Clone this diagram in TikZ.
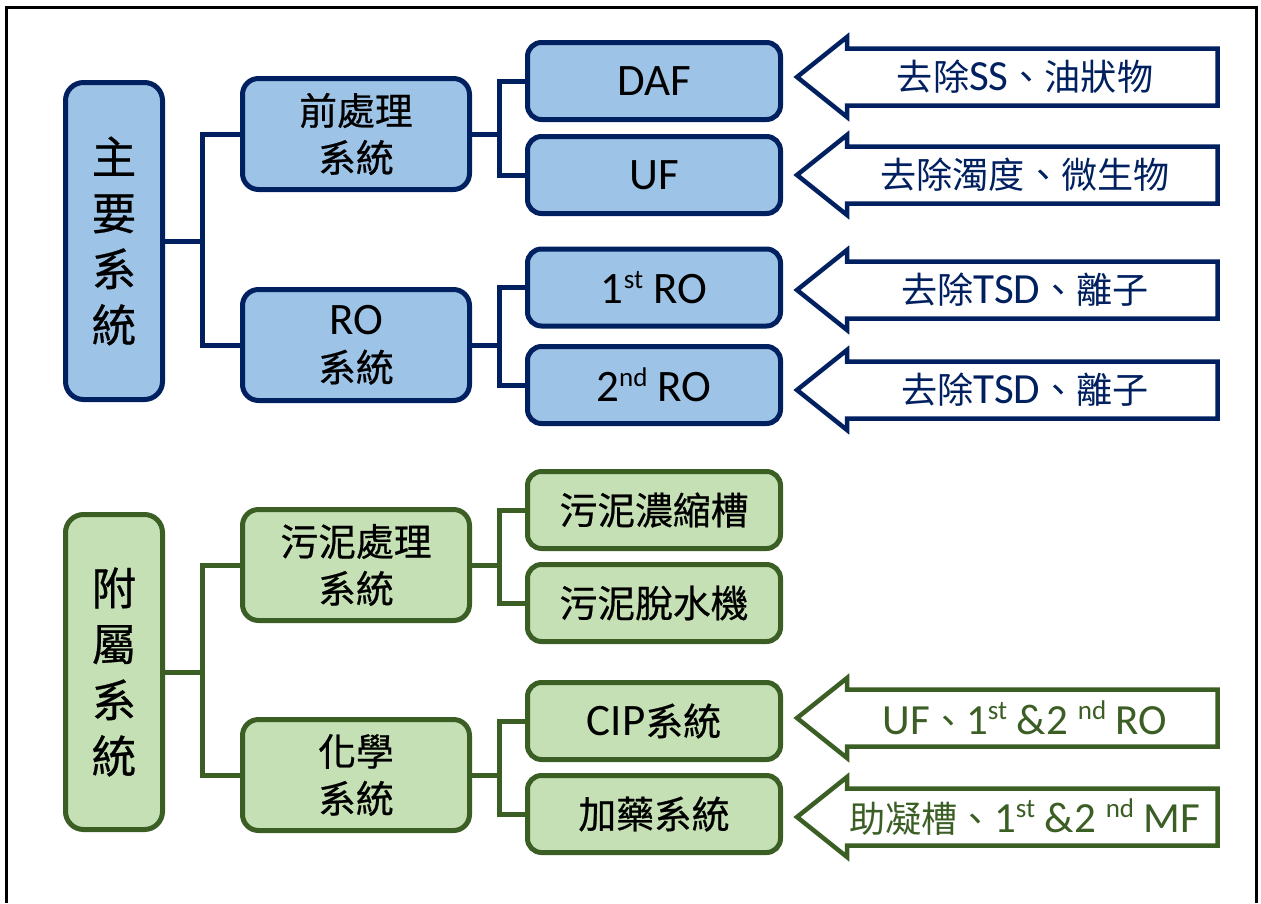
\documentclass[tikz,border=0pt]{standalone}
\usepackage{fontspec}
\setmainfont{Carlito}
\newfontfamily\cjk[Scale=0.84]{Noto Sans CJK TC}
\newfontfamily\cjkb[Scale=0.84,FakeBold=0.6]{Noto Sans CJK TC}
\newcommand\zh[1]{{\cjk #1}}
\newcommand\zb[1]{{\cjkb #1}}
\newcommand\sups[1]{\raisebox{0.34em}{\fontsize{27}{27}\selectfont #1}}
\definecolor{navy}{HTML}{002060}
\definecolor{bluef}{HTML}{9DC3E6}
\definecolor{dgreen}{HTML}{3B5E24}
\definecolor{greenf}{HTML}{C5E0B4}
\tikzset{
  box/.style={draw, line width=5pt, inner sep=0pt, align=center, text=black},
  blueb/.style={box, draw=navy, fill=bluef},
  greenb/.style={box, draw=dgreen, fill=greenf},
  lone/.style={minimum width=97pt, minimum height=317pt, rounded corners=18pt, font=\fontsize{53}{56}\selectfont},
  ltwo/.style={minimum width=227pt, minimum height=111pt, rounded corners=16pt, font=\fontsize{45}{47}\selectfont},
  lthree/.style={minimum width=253pt, minimum height=77pt, rounded corners=14pt, font=\fontsize{45}{50}\selectfont},
  conn/.style={line width=5pt},
  atext/.style={inner sep=0pt, font=\fontsize{43}{45}\selectfont},
  blockarr/.pic={\draw[line width=4.5pt, fill=white, miter limit=10]
     (797,0) -- (847,-40) -- (847,-28.5) -- (1217.5,-28.5) -- (1217.5,28.5)
     -- (847,28.5) -- (847,40) -- cycle;}
}
\begin{document}
\begin{tikzpicture}[x=1pt,y=-1pt]
\useasboundingbox (0,0) rectangle (1261,903);
\draw[line width=3pt] (6.5,903) -- (6.5,7.5) -- (1256.5,7.5) -- (1256.5,903);

% ---------- main system ----------
\node[blueb, lone] (main) at (114,241) {\zb{主}\\\zb{要}\\\zb{系}\\\zb{統}};
\node[blueb, ltwo] (pre) at (356,134) {\zb{前處理}\\\zb{系統}};
\node[blueb, ltwo] (ro) at (356,345) {RO\\\zb{系統}};
\node[blueb, lthree] (daf) at (654,81) {DAF};
\node[blueb, lthree] (uf) at (654,175) {UF};
\node[blueb, lthree] (roa) at (654,287.5) {1\sups{st} RO};
\node[blueb, lthree] (rob) at (654,385) {2\sups{nd} RO};

\coordinate (jm) at (202,241);
\coordinate (jp) at (499,134);
\coordinate (jr) at (499,345);
\draw[conn, navy] (main.east) -- (jm);
\draw[conn, navy] (pre.west) -| (jm) |- (ro.west);
\draw[conn, navy] (pre.east) -- (jp);
\draw[conn, navy] (daf.west) -| (jp) |- (uf.west);
\draw[conn, navy] (ro.east) -- (jr);
\draw[conn, navy] (roa.west) -| (jr) |- (rob.west);

% ---------- auxiliary system ----------
\node[greenb, lone, minimum height=315pt] (aux) at (114,672) {\zb{附}\\\zb{屬}\\\zb{系}\\\zb{統}};
\node[greenb, ltwo] (sl) at (356,565) {\zb{污泥處理}\\\zb{系統}};
\node[greenb, ltwo] (ch) at (356,775) {\zb{化學}\\\zb{系統}};
\node[greenb, lthree] (thk) at (654,510) {\zb{污泥濃縮槽}};
\node[greenb, lthree] (dew) at (654,603) {\zb{污泥脫水機}};
\node[greenb, lthree] (cip) at (654,721) {CIP\zb{系統}};
\node[greenb, lthree] (dos) at (654,814) {\zb{加藥系統}};

\coordinate (ja) at (202,672);
\coordinate (js) at (499,565);
\coordinate (jc) at (499,775);
\draw[conn, dgreen] (aux.east) -- (ja);
\draw[conn, dgreen] (sl.west) -| (ja) |- (ch.west);
\draw[conn, dgreen] (sl.east) -- (js);
\draw[conn, dgreen] (thk.west) -| (js) |- (dew.west);
\draw[conn, dgreen] (ch.east) -- (jc);
\draw[conn, dgreen] (cip.west) -| (jc) |- (dos.west);

% ---------- block arrows ----------
\pic[navy] at (0,77) {blockarr};
\pic[navy] at (0,175) {blockarr};
\pic[navy] at (0,290) {blockarr};
\pic[navy] at (0,390) {blockarr};
\pic[dgreen] at (0,718) {blockarr};
\pic[dgreen] at (0,817) {blockarr};

\node[atext, text=navy] (ta) at (1025,77) {\zh{去除}SS\zh{、油狀物}};
\node[atext, text=navy] (tb) at (1025,175) {\zh{去除濁度、微生物}};
\node[atext, text=navy] (tc) at (1025,290) {\zh{去除}TSD\zh{、離子}};
\node[atext, text=navy] (td) at (1025,390) {\zh{去除}TSD\zh{、離子}};
\node[atext, text=dgreen] (te) at (1025,718) {UF\zh{、}1\sups{st} \&2 \sups{nd} RO};
\node[atext, text=dgreen] (tf) at (1025,817) {\zh{助凝槽、}1\sups{st} \&2 \sups{nd} MF};
\end{tikzpicture}
\end{document}
